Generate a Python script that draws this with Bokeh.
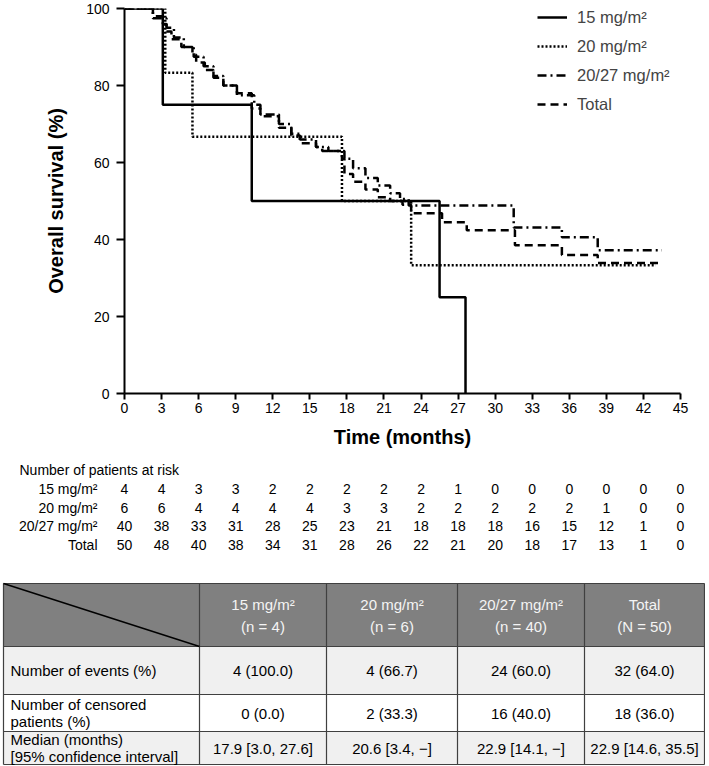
from bokeh.plotting import figure
from bokeh.models import Range1d, Legend, LegendItem, FixedTicker
from bokeh.layouts import column
from bokeh.core.properties import value
from bokeh.embed import file_html
from bokeh.resources import INLINE

FONT = "Liberation Sans"

# ---------------- data ----------------
t_15 = [0, 3.1, 10.3, 25.5, 27.6]
s_15 = [100, 75, 50, 25, 0]

t_20 = [0, 3.3, 5.5, 17.6, 23.2, 43.0]
s_20 = [100, 83.3, 66.7, 50, 33.3, 33.3]

t_2027 = [0, 2.3, 3.4, 4.0, 4.8, 5.6, 6.4, 7.2, 8.0, 9.1, 10.5, 11.0, 12.5, 13.5,
          14.2, 15.5, 16.5, 17.8, 18.5, 19.5, 20.5, 21.5, 22.3, 23.0, 31.5, 35.4,
          38.3, 43.5]
s_2027 = [100, 97.5, 95, 92.5, 90, 87.5, 85, 82.5, 80, 77.5, 75, 72.5, 70, 67.5,
          66, 64, 63, 61, 58.5, 56, 54, 52, 50.5, 48.8, 43.1, 40.6, 37.2, 37.2]

t_total = [0, 2.3, 3.1, 3.4, 3.8, 4.6, 5.5, 5.8, 6.5, 7.2, 8.0, 9.1, 10.3, 11.0,
           12.5, 13.5, 14.2, 15.5, 16.0, 17.6, 17.8, 18.5, 19.5, 20.5, 21.5, 22.5,
           23.2, 25.7, 27.7, 31.6, 35.4, 38.3, 43.5]
s_total = [100, 98, 96, 94, 92, 90, 88, 86, 84, 82, 80, 78, 74, 72, 69, 67, 65,
           64, 63, 61, 57, 55, 53, 51, 50, 49, 46.8, 44.5, 42.4, 38.5, 36.0, 33.9,
           33.9]

series_labels = ["15 mg/m²", "20 mg/m²", "20/27 mg/m²", "Total"]

risk_times = [0, 3, 6, 9, 12, 15, 18, 21, 24, 27, 30, 33, 36, 39, 42, 45]
risk_15 = [4, 4, 3, 3, 2, 2, 2, 2, 2, 1, 0, 0, 0, 0, 0, 0]
risk_20 = [6, 6, 4, 4, 4, 4, 3, 3, 2, 2, 2, 2, 2, 1, 0, 0]
risk_2027 = [40, 38, 33, 31, 28, 25, 23, 21, 18, 18, 18, 16, 15, 12, 1, 0]
risk_total = [50, 48, 40, 38, 34, 31, 28, 26, 22, 21, 20, 18, 17, 13, 1, 0]

y_ticks = [0, 20, 40, 60, 80, 100]

col_head_1 = ["15 mg/m²", "20 mg/m²", "20/27 mg/m²", "Total"]
col_head_2 = ["(n = 4)", "(n = 6)", "(n = 40)", "(N = 50)"]
row_label_lines = [["Number of events (%)"],
                   ["Number of censored", "patients (%)"],
                   ["Median (months)", "[95% confidence interval]"]]
events = ["4 (100.0)", "4 (66.7)", "24 (60.0)", "32 (64.0)"]
censored = ["0 (0.0)", "2 (33.3)", "16 (40.0)", "18 (36.0)"]
median = ["17.9 [3.0, 27.6]", "20.6 [3.4, \u2212]", "22.9 [14.1, \u2212]",
          "22.9 [14.6, 35.5]"]

# ---------------- layout constants (page px) ----------------
W = 705
H1 = 450
H2 = 315
FRAME_L, FRAME_R, FRAME_T, FRAME_B = 124, 680, 8, 394

# ---------------- KM figure ----------------
p = figure(width=W, height=H1, x_range=Range1d(0, 45), y_range=Range1d(0, 100),
           output_backend="svg", toolbar_location=None,
           min_border_left=FRAME_L, min_border_right=W - FRAME_R,
           min_border_top=FRAME_T, min_border_bottom=H1 - FRAME_B)
p.frame_align = False
p.outline_line_color = None
p.xgrid.visible = False
p.ygrid.visible = False

styles = [dict(line_dash="solid"), dict(line_dash="2 2"),
          dict(line_dash="9 4 2 4"), dict(line_dash="8 5")]
renderers = []
for (tt, ss), st in zip([(t_15, s_15), (t_20, s_20), (t_2027, s_2027),
                         (t_total, s_total)], styles):
    r = p.step(tt, ss, mode="after", line_color="black", line_width=2.5, **st)
    renderers.append(r)

xa = p.xaxis[0]
xa.ticker = FixedTicker(ticks=risk_times)
ya = p.yaxis[0]
ya.ticker = FixedTicker(ticks=y_ticks)
for ax in (xa, ya):
    ax.axis_line_width = 2
    ax.axis_line_color = "black"
    ax.major_tick_line_width = 2
    ax.major_tick_line_color = "black"
    ax.major_tick_in = 0
    ax.minor_tick_line_color = None
    ax.major_label_text_font = FONT
    ax.major_label_text_font_size = "14px"
    ax.major_label_text_color = "black"
    ax.axis_label_text_font = FONT
    ax.axis_label_text_font_size = "20px"
    ax.axis_label_text_font_style = "bold"
    ax.axis_label_text_color = "black"
xa.major_tick_out = 6
xa.major_label_standoff = 3
xa.axis_label = "Time (months)"
xa.axis_label_standoff = 10
ya.major_tick_out = 8
ya.major_label_standoff = 7
ya.axis_label = "Overall survival (%)"
ya.axis_label_standoff = 16

frame_h = FRAME_B - FRAME_T
legend = Legend(items=[LegendItem(label=lab, renderers=[r])
                       for lab, r in zip(series_labels, renderers)],
                location=(537 - FRAME_L, frame_h - 107), padding=0, margin=0,
                spacing=9, glyph_width=30, glyph_height=20, label_height=20,
                label_standoff=10, border_line_color=None,
                background_fill_alpha=0, label_text_font=FONT,
                label_text_font_size="16.5px")
p.add_layout(legend)

# ---------------- table figure ----------------
PX_PER_MONTH = (FRAME_R - FRAME_L) / 45.0
x0 = -FRAME_L / PX_PER_MONTH
x1 = (W - FRAME_L) / PX_PER_MONTH
TOP = H1
p2 = figure(width=W, height=H2, x_range=Range1d(x0, x1),
            y_range=Range1d(TOP + H2, TOP), output_backend="svg",
            toolbar_location=None, min_border=0, min_border_left=0,
            min_border_right=0, min_border_top=0, min_border_bottom=0)
p2.frame_align = False
p2.extra_x_ranges = {"px": Range1d(0, W)}
p2.outline_line_color = None
p2.xaxis.visible = False
p2.yaxis.visible = False
p2.xgrid.visible = False
p2.ygrid.visible = False

tf = value(FONT)
p2.text(x=[19], y=[469], text=["Number of patients at risk"], x_range_name="px",
        text_font=tf, text_font_size="14px", text_baseline="middle",
        text_align="left", text_color="black")
row_y = [488, 507, 525, 544]
for lab, vals, yy in zip(series_labels, [risk_15, risk_20, risk_2027, risk_total], row_y):
    p2.text(x=[97], y=[yy], text=[lab], x_range_name="px", text_font=tf,
            text_font_size="14px", text_baseline="middle", text_align="right",
            text_color="black")
    p2.text(x=risk_times, y=[yy] * len(risk_times), text=[str(v) for v in vals],
            text_font=tf, text_font_size="14px", text_baseline="middle",
            text_align="center", text_color="black")

# table geometry (page px)
cx = [3, 199, 326, 457, 584, 704]
ry = [583, 646, 694, 731, 764]
row_fill = ["#808080", "#f0f0f0", "#ffffff", "#f0f0f0"]
for i in range(4):
    p2.quad(left=[cx[0]], right=[cx[-1]], top=[ry[i]], bottom=[ry[i + 1]],
            fill_color=row_fill[i], line_color=None, x_range_name="px")
for xv in cx:
    p2.segment(x0=[xv], x1=[xv], y0=[ry[0]], y1=[ry[-1]], line_color="#404040",
               line_width=1.2, x_range_name="px")
for yv in ry:
    p2.segment(x0=[cx[0]], x1=[cx[-1]], y0=[yv], y1=[yv], line_color="#404040",
               line_width=1.2, x_range_name="px")
p2.segment(x0=[cx[0]], x1=[cx[1]], y0=[ry[0]], y1=[ry[1]], line_color="black",
           line_width=1.5, x_range_name="px")

centers = [(cx[i + 1] + cx[i + 2]) / 2 for i in range(4)]
hy = (ry[0] + ry[1]) / 2
p2.text(x=centers, y=[hy - 11] * 4, text=col_head_1, x_range_name="px",
        text_font=tf, text_font_size="15px", text_baseline="middle",
        text_align="center", text_color="#f4f4f4")
p2.text(x=centers, y=[hy + 11] * 4, text=col_head_2, x_range_name="px",
        text_font=tf, text_font_size="15px", text_baseline="middle",
        text_align="center", text_color="#f4f4f4")

for i, (lines, vals) in enumerate(zip(row_label_lines, [events, censored, median])):
    cy = (ry[i + 1] + ry[i + 2]) / 2
    n = len(lines)
    for k, ln in enumerate(lines):
        yy = cy + (k - (n - 1) / 2) * 17
        p2.text(x=[cx[0] + 7], y=[yy], text=[ln], x_range_name="px", text_font=tf,
                text_font_size="15px", text_baseline="middle", text_align="left",
                text_color="black")
    p2.text(x=centers, y=[cy] * 4, text=vals, x_range_name="px", text_font=tf,
            text_font_size="15px", text_baseline="middle", text_align="center",
            text_color="black")

layout = column(p, p2, spacing=0)
open("out.html", "w").write(file_html(layout, INLINE))
